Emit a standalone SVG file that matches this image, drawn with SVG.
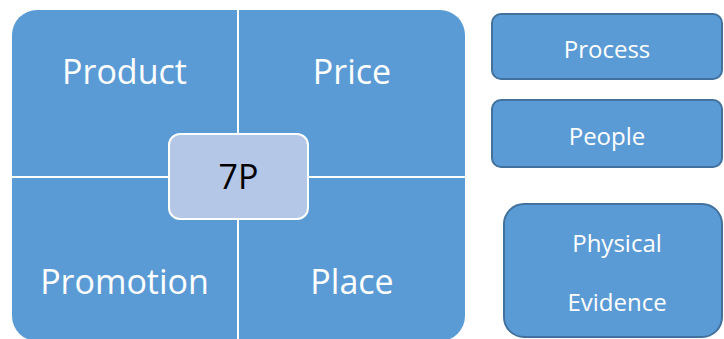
<svg xmlns="http://www.w3.org/2000/svg" width="724" height="339" viewBox="0 0 724 339">
  <style>
    .quad { fill: #5B9BD5; }
    .side { fill: #5B9BD5; stroke: #41719C; stroke-width: 2; }
    .core { fill: #B4C7E7; stroke: #FFFFFF; stroke-width: 2; }
    .big { font-family: "Open Sans", "Noto Sans", sans-serif; font-size: 34px; fill: #FFFFFF; text-anchor: middle; }
    .small { font-family: "Open Sans", "Noto Sans", sans-serif; font-size: 24px; fill: #FFFFFF; text-anchor: middle; }
    .dark { fill: #000000; }
  </style>
  <rect width="724" height="339" fill="#FFFFFF"/>

  <!-- four quadrants of the marketing mix -->
  <g id="product">
    <path class="quad" d="M12,176 V35 A25,25 0 0 1 37,10 H237 V176 Z"/>
    <text class="big" x="124.5" y="84">Product</text>
  </g>
  <g id="price">
    <path class="quad" d="M239,10 H440 A25,25 0 0 1 465,35 V176 H239 Z"/>
    <text class="big" x="352" y="84">Price</text>
  </g>
  <g id="promotion">
    <path class="quad" d="M12,178 H237 V341 H37 A25,25 0 0 1 12,316 Z"/>
    <text class="big" x="124.5" y="294">Promotion</text>
  </g>
  <g id="place">
    <path class="quad" d="M239,178 H465 V316 A25,25 0 0 1 440,341 H239 Z"/>
    <text class="big" x="352" y="294">Place</text>
  </g>

  <!-- centre label -->
  <g id="core-7p">
    <rect class="core" x="169" y="134" width="139" height="85" rx="11" ry="11"/>
    <text class="big dark" x="238.5" y="189">7P</text>
  </g>

  <!-- additional three Ps -->
  <g id="process">
    <rect class="side" x="492" y="14" width="230" height="65" rx="9" ry="9"/>
    <text class="small" x="607" y="58">Process</text>
  </g>
  <g id="people">
    <rect class="side" x="492" y="100" width="230" height="67" rx="9" ry="9"/>
    <text class="small" x="607" y="145">People</text>
  </g>
  <g id="physical-evidence">
    <rect class="side" x="504" y="204" width="218" height="133" rx="20" ry="20"/>
    <text class="small" x="617" y="252">Physical</text>
    <text class="small" x="617" y="311">Evidence</text>
  </g>
</svg>
